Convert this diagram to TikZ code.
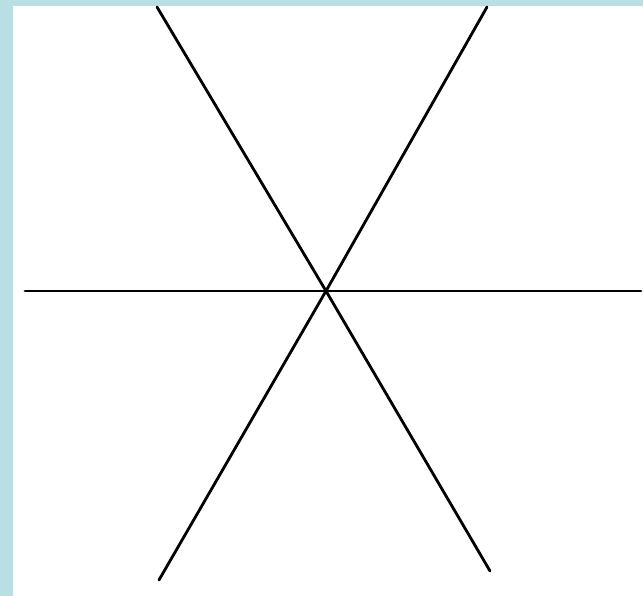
\documentclass[tikz,border=0pt]{standalone}
\definecolor{framecol}{HTML}{B8DFE3}
\begin{document}
\begin{tikzpicture}[line join=round, line cap=round, x=0.03cm, y=-0.03cm]
	\tikzset{axis/.style={line width=2.4pt, black}}
	% frame and page
	\fill[framecol] (0,0) rectangle (643,596);
	\fill[white] (13,6) rectangle (643,596);
	\useasboundingbox (0,0) rectangle (643,596);
	\coordinate (O) at (326,291);
	\coordinate (L) at (25,291);
	\coordinate (R) at (641,291);
	\coordinate (TL) at (157,7);
	\coordinate (BR) at (490,571);
	\coordinate (TR) at (487,7);
	\coordinate (BL) at (159,580);
	\draw[axis] (L)--(O)--(R);
	\draw[axis] (TL)--(O)--(BR);
	\draw[axis] (TR)--(O)--(BL);
\end{tikzpicture}
\end{document}
